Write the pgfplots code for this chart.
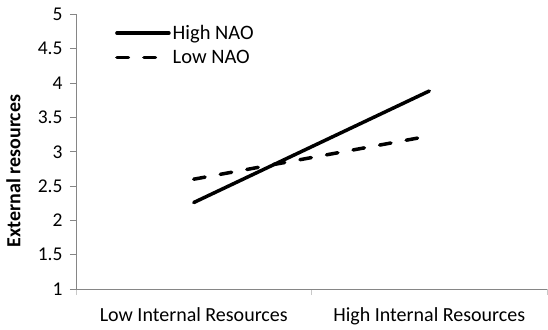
\documentclass[border=0pt]{standalone}
\usepackage{pgfplots}
\pgfplotsset{compat=1.18}
\usepackage{fontspec}
\setmainfont{Carlito}
\definecolor{axgray}{RGB}{134,134,134}
\definecolor{tkgray}{RGB}{200,200,200}
\begin{document}
\begin{tikzpicture}[x=1pt,y=1pt]
\useasboundingbox (0,0) rectangle (548,329);
\begin{axis}[
  at={(76pt,40pt)}, anchor=south west,
  scale only axis, width=471pt, height=274.5pt,
  xmin=0, xmax=2, ymin=1, ymax=5,
  axis x line*=bottom, axis y line*=left,
  axis line style={axgray, line width=1pt, -},
  ytick={1,1.5,...,5},
  yticklabel style={font=\fontsize{19.5}{19.5}\selectfont, xshift=-4pt},
  /pgf/number format/assume math mode=true,
  yticklabel={\pgfmathprintnumber[fixed,precision=1]{\tick}},
  ytick style={axgray, line width=0.8pt},
  tick align=outside, major tick length=6pt,
  xtick={0,1,2}, xticklabels={},
  xtick style={tkgray, line width=1pt},
  extra x ticks={0.5,1.5},
  extra x tick labels={Low Internal Resources, High Internal Resources},
  extra x tick style={major tick length=0pt, tick style={draw=none}},
  xticklabel style={font=\fontsize{20}{20}\selectfont, yshift=-15pt},
  ylabel={\textbf{External resources}},
  ylabel style={font=\fontsize{20}{20}\selectfont},
  every axis y label/.append style={at={(-52pt,118pt)}, anchor=south},
  legend style={at={(39pt,266pt)}, anchor=north west, draw=none, fill=none,
     font=\fontsize{20.5}{20.5}\selectfont, inner sep=0pt, row sep=5pt,
     /tikz/every even column/.append style={column sep=0pt}},
  legend cell align=left,
  legend image code/.code={\draw[#1] (0pt,0pt) -- (52pt,0pt);},
  clip=false,
]
\addplot[black, line width=3.5pt, line cap=round] coordinates {(0.5,2.26) (1.5,3.885)};
\addlegendentry{High NAO}
\addplot[black, line width=3.5pt, line cap=round, dash pattern=on 11.5pt off 15.5pt] coordinates {(0.5,2.60) (1.5,3.23)};
\addlegendentry{Low NAO}
\end{axis}
\end{tikzpicture}
\end{document}
